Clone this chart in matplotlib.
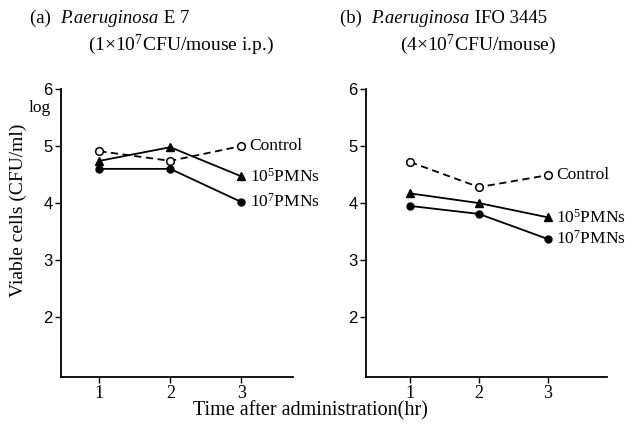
import matplotlib
matplotlib.use("Agg")
import matplotlib.pyplot as plt
from matplotlib.offsetbox import TextArea, HPacker, AnchoredOffsetbox

times = [1, 2, 3]

# Panel (a) P.aeruginosa E 7
a_control = [4.91, 4.74, 5.00]
a_pmn5 = [4.74, 4.98, 4.47]
a_pmn7 = [4.60, 4.60, 4.02]

# Panel (b) P.aeruginosa IFO 3445
b_control = [4.72, 4.28, 4.49]
b_pmn5 = [4.17, 4.00, 3.75]
b_pmn7 = [3.95, 3.81, 3.37]

series_labels = ["Control", "10$^5$PMNs", "10$^7$PMNs"]
yticks = [2, 3, 4, 5, 6]
xticks = [1, 2, 3]

plt.rcParams["mathtext.fontset"] = "custom"
plt.rcParams["mathtext.rm"] = "Liberation Serif"
plt.rcParams["mathtext.it"] = "Liberation Serif:italic"
plt.rcParams["mathtext.default"] = "regular"

SERIF = ["Liberation Serif", "DejaVu Serif"]
SANS = ["Liberation Sans", "DejaVu Sans"]

fig = plt.figure(figsize=(6.31, 4.26), dpi=100)
axA = fig.add_axes([0.0967, 0.115, 0.3676, 0.676])
axB = fig.add_axes([0.580, 0.115, 0.382, 0.676])


def draw(ax, control, p5, p7, xlim):
    ax.plot(times, control, color="black", ls=(0, (4, 2.5)), lw=1.3,
            marker="o", mfc="white", mec="black", ms=5.5, mew=1.1, zorder=3)
    ax.plot(times, p5, color="black", lw=1.3, marker="^", mfc="black",
            mec="black", ms=6, zorder=3)
    ax.plot(times, p7, color="black", lw=1.3, marker="o", mfc="black",
            mec="black", ms=5, zorder=3)
    for vals, lab in zip([control, p5, p7], series_labels):
        ax.annotate(lab, (times[-1], vals[-1]), xytext=(6, 0),
                    textcoords="offset points", va="center", ha="left",
                    fontsize=12.5, family=SERIF)
    ax.set_xlim(*xlim)
    ax.set_ylim(0.95, 6)
    ax.spines["top"].set_visible(False)
    ax.spines["right"].set_visible(False)
    for s in ["left", "bottom"]:
        ax.spines[s].set_linewidth(1.3)
    ax.set_xticks(xticks)
    ax.set_yticks(yticks)
    ax.set_xticklabels([str(t) for t in xticks], family=SERIF, fontsize=13)
    ax.set_yticklabels([str(t) for t in yticks], family=SANS, fontsize=12)
    ax.tick_params(direction="out", length=4, width=1, pad=2)


draw(axA, a_control, a_pmn5, a_pmn7, (0.46, 3.73))
draw(axB, b_control, b_pmn5, b_pmn7, (0.36, 3.86))


def packed(x, y, parts, size=13.5):
    boxes = [TextArea(txt, textprops=dict(family=SERIF, fontsize=size, style=st))
             for txt, st in parts]
    hp = HPacker(children=boxes, align="baseline", pad=0, sep=0)
    ab = AnchoredOffsetbox(loc="center left", child=hp, pad=0, borderpad=0,
                           frameon=False, bbox_to_anchor=(x, y),
                           bbox_transform=fig.transFigure)
    fig.add_artist(ab)


packed(30/631, 1 - 18/426, [("(a)  ", "normal"), ("P.aeruginosa", "italic"), (" E 7", "normal")])
fig.text(88/631, 1 - 45/426, "(1×10$^7$CFU/mouse i.p.)", family=SERIF, fontsize=14,
         va="center", ha="left")
packed(340/631, 1 - 18/426, [("(b)  ", "normal"), ("P.aeruginosa", "italic"), (" IFO 3445", "normal")])
fig.text(400/631, 1 - 45/426, "(4×10$^7$CFU/mouse)", family=SERIF, fontsize=14,
         va="center", ha="left")

fig.text(40/631, 1 - 108/426, "log", family=SERIF, fontsize=12.5, va="center", ha="center")
fig.text(18/631, 1 - 210/426, "Viable cells (CFU/ml)", family=SERIF, fontsize=14,
         rotation=90, va="center", ha="center")
fig.text(310/631, 1 - 411/426, "Time after administration(hr)", family=SERIF,
         fontsize=14.5, va="center", ha="center")

fig.savefig("out.png", dpi=100)
